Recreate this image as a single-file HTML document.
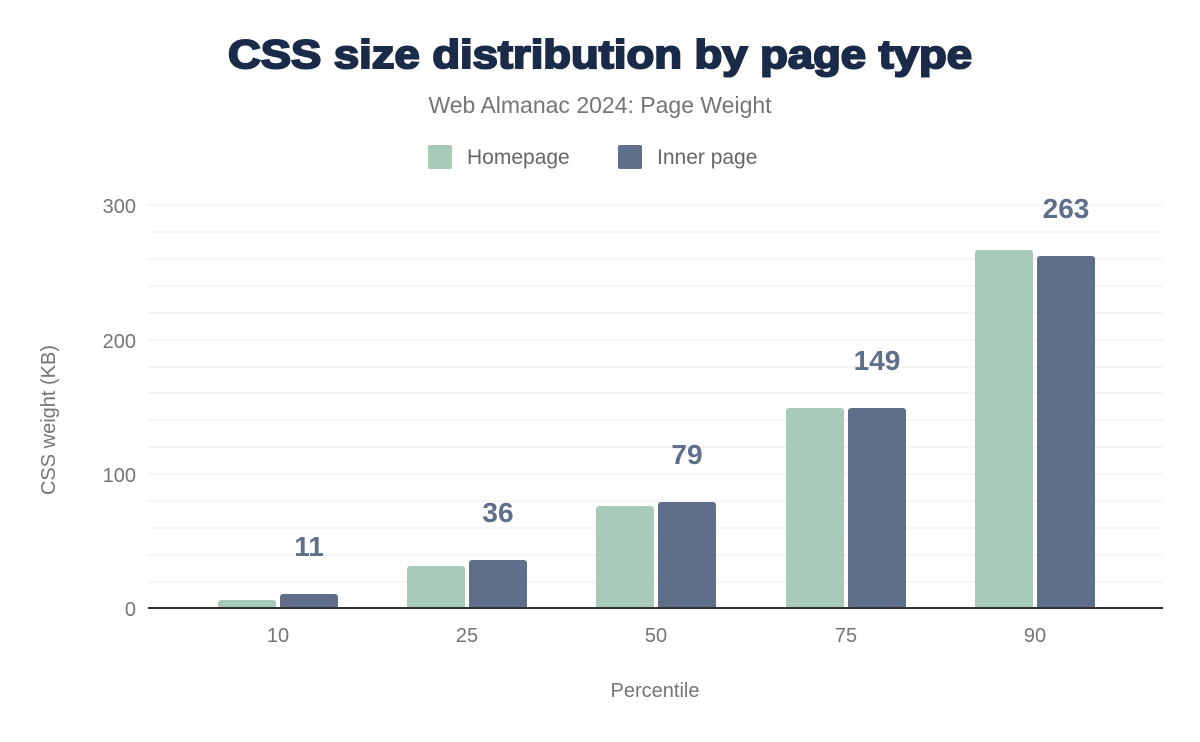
<!DOCTYPE html>
<html><head><meta charset="utf-8"><style>
html,body{margin:0;padding:0;background:#fff;}
svg{display:block;font-family:"Liberation Sans",Arial,sans-serif;}
</style></head><body>
<svg width="1200" height="742" viewBox="0 0 1200 742" xmlns="http://www.w3.org/2000/svg">
<text x="228" y="68" textLength="744" lengthAdjust="spacingAndGlyphs" font-size="40" font-weight="900" fill="#1a2b49" stroke="#1a2b49" stroke-width="2">CSS size distribution by page type</text>
<text x="600" y="113" text-anchor="middle" font-size="23" fill="#757575">Web Almanac 2024: Page Weight</text>
<rect x="428" y="145" width="24" height="24" rx="2" fill="#a8cab9"/>
<text x="467" y="164" font-size="21" fill="#666">Homepage</text>
<rect x="618" y="145" width="24" height="24" rx="2" fill="#5f6f8a"/>
<text x="657" y="164" font-size="21" fill="#666">Inner page</text>
<g stroke="#f5f5f5" stroke-width="2">
<line x1="148" x2="1163" y1="205" y2="205"/><line x1="148" x2="1163" y1="232" y2="232"/><line x1="148" x2="1163" y1="259" y2="259"/><line x1="148" x2="1163" y1="286" y2="286"/><line x1="148" x2="1163" y1="313" y2="313"/><line x1="148" x2="1163" y1="340" y2="340"/><line x1="148" x2="1163" y1="367" y2="367"/><line x1="148" x2="1163" y1="393" y2="393"/><line x1="148" x2="1163" y1="420" y2="420"/><line x1="148" x2="1163" y1="447" y2="447"/><line x1="148" x2="1163" y1="474" y2="474"/><line x1="148" x2="1163" y1="501" y2="501"/><line x1="148" x2="1163" y1="528" y2="528"/><line x1="148" x2="1163" y1="555" y2="555"/><line x1="148" x2="1163" y1="582" y2="582"/>
</g>
<g font-size="20" fill="#757575" text-anchor="end">
<text x="136" y="213">300</text><text x="136" y="348">200</text><text x="136" y="482">100</text><text x="136" y="616">0</text>
</g>
<text transform="translate(55,420) rotate(-90)" text-anchor="middle" font-size="20" fill="#757575">CSS weight (KB)</text>
<g fill="#a8cab9">
<rect x="218" y="600" width="58" height="9" rx="3"/>
<rect x="407" y="566" width="58" height="43" rx="3"/>
<rect x="596" y="506" width="58" height="103" rx="3"/>
<rect x="786" y="408" width="58" height="201" rx="3"/>
<rect x="975" y="250" width="58" height="359" rx="3"/>
</g>
<g fill="#5f6f8a">
<rect x="280" y="594" width="58" height="15" rx="3"/>
<rect x="469" y="560" width="58" height="49" rx="3"/>
<rect x="658" y="502" width="58" height="107" rx="3"/>
<rect x="848" y="408" width="58" height="201" rx="3"/>
<rect x="1037" y="256" width="58" height="353" rx="3"/>
</g>
<line x1="148" x2="1163" y1="608" y2="608" stroke="#333" stroke-width="2"/>
<g font-size="28" font-weight="bold" fill="#5f6f8a" text-anchor="middle">
<text x="309" y="556">11</text><text x="498" y="522">36</text><text x="687" y="464">79</text><text x="877" y="370">149</text><text x="1066" y="218">263</text>
</g>
<g font-size="20" fill="#757575" text-anchor="middle">
<text x="278" y="642">10</text><text x="467" y="642">25</text><text x="656" y="642">50</text><text x="846" y="642">75</text><text x="1035" y="642">90</text>
</g>
<text x="655" y="697" text-anchor="middle" font-size="20" fill="#757575">Percentile</text>
</svg>
</body></html>
